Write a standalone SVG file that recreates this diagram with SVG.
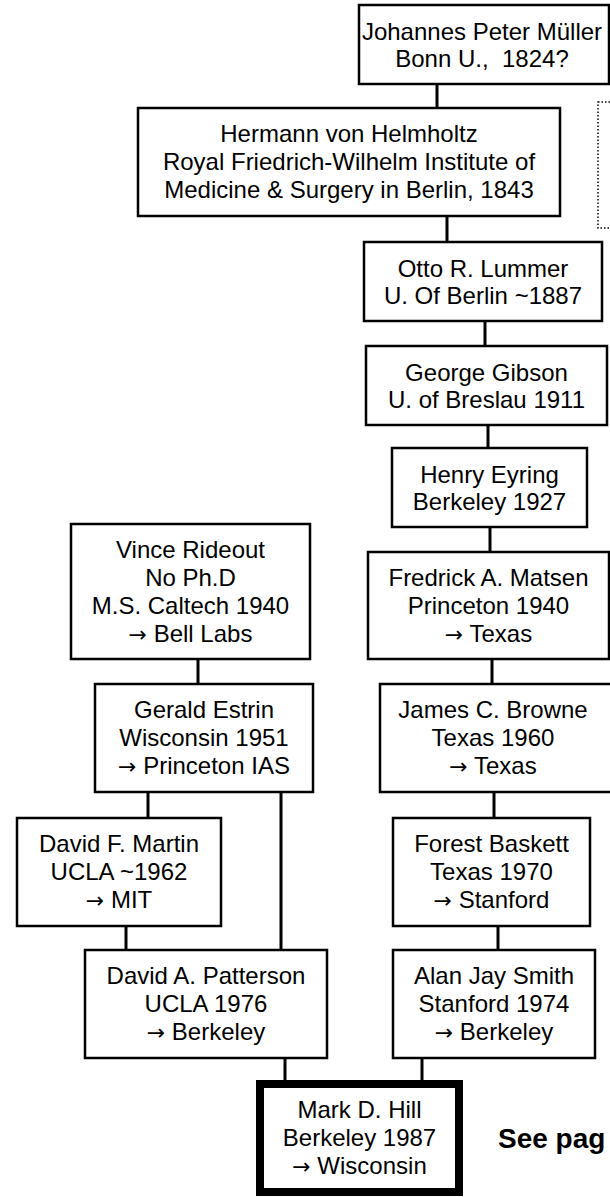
<svg xmlns="http://www.w3.org/2000/svg" width="610" height="1197" viewBox="0 0 610 1197">
<style>
.box{fill:#fff;stroke:#000;stroke-width:2.5}
.me{fill:#fff;stroke:#000;stroke-width:8}
.dot{fill:none;stroke:#000;stroke-width:1.5;stroke-dasharray:1.5 2}
.c{stroke:#000;stroke-width:3;fill:none}
text{font-family:"Liberation Sans",Arial,sans-serif;font-size:24px;fill:#000;text-anchor:middle;white-space:pre}
.a{font-family:"DejaVu Sans",sans-serif;font-size:22px}
.see{font-weight:bold;font-size:28px;text-anchor:start}
</style>
<rect width="610" height="1197" fill="#fff"/>
<g id="connectors">
<line class="c" x1="437" y1="84" x2="437" y2="108"/>
<line class="c" x1="447" y1="216" x2="447" y2="242"/>
<line class="c" x1="485" y1="321" x2="485" y2="346"/>
<line class="c" x1="488" y1="425" x2="488" y2="448"/>
<line class="c" x1="490" y1="527" x2="490" y2="552"/>
<line class="c" x1="198" y1="659" x2="198" y2="684"/>
<line class="c" x1="492" y1="659" x2="492" y2="684"/>
<line class="c" x1="148" y1="792" x2="148" y2="818"/>
<line class="c" x1="281" y1="792" x2="281" y2="950"/>
<line class="c" x1="494" y1="792" x2="494" y2="818"/>
<line class="c" x1="126" y1="926" x2="126" y2="950"/>
<line class="c" x1="498" y1="926" x2="498" y2="950"/>
<line class="c" x1="285" y1="1058" x2="285" y2="1082"/>
<line class="c" x1="422" y1="1058" x2="422" y2="1082"/>
</g>
<g id="note">
<rect class="dot" x="598" y="102" width="30" height="126"/>
</g>
<g id="muller">
<rect class="box" x="359" y="5" width="250" height="79"/>
<text x="482" y="40">Johannes Peter Müller</text>
<text x="482" y="67">Bonn U.,  1824?</text>
</g>
<g id="helmholtz">
<rect class="box" x="138" y="108" width="422" height="108"/>
<text x="349" y="142">Hermann von Helmholtz</text>
<text x="349" y="170">Royal Friedrich-Wilhelm Institute of</text>
<text x="349" y="198">Medicine &amp; Surgery in Berlin, 1843</text>
</g>
<g id="lummer">
<rect class="box" x="364" y="242" width="238" height="79"/>
<text x="483" y="277">Otto R. Lummer</text>
<text x="483" y="304">U. Of Berlin ~1887</text>
</g>
<g id="gibson">
<rect class="box" x="366" y="346" width="241" height="79"/>
<text x="486.5" y="381">George Gibson</text>
<text x="486.5" y="408">U. of Breslau 1911</text>
</g>
<g id="eyring">
<rect class="box" x="392" y="448" width="195" height="79"/>
<text x="489.5" y="483">Henry Eyring</text>
<text x="489.5" y="510">Berkeley 1927</text>
</g>
<g id="rideout">
<rect class="box" x="71" y="524" width="239" height="135"/>
<text x="190.5" y="558">Vince Rideout</text>
<text x="190.5" y="586">No Ph.D</text>
<text x="190.5" y="614">M.S. Caltech 1940</text>
<text x="190.5" y="642"><tspan class="a">→</tspan> Bell Labs</text>
</g>
<g id="matsen">
<rect class="box" x="368" y="552" width="241" height="107"/>
<text x="488.5" y="586">Fredrick A. Matsen</text>
<text x="488.5" y="614">Princeton 1940</text>
<text x="488.5" y="642"><tspan class="a">→</tspan> Texas</text>
</g>
<g id="estrin">
<rect class="box" x="95" y="684" width="218" height="108"/>
<text x="204" y="718">Gerald Estrin</text>
<text x="204" y="746">Wisconsin 1951</text>
<text x="204" y="774"><tspan class="a">→</tspan> Princeton IAS</text>
</g>
<g id="browne">
<rect class="box" x="380" y="684" width="234" height="108"/>
<text x="493" y="718">James C. Browne</text>
<text x="493" y="746">Texas 1960</text>
<text x="493" y="774"><tspan class="a">→</tspan> Texas</text>
</g>
<g id="martin">
<rect class="box" x="17" y="818" width="204" height="108"/>
<text x="119" y="852">David F. Martin</text>
<text x="119" y="880">UCLA ~1962</text>
<text x="119" y="908"><tspan class="a">→</tspan> MIT</text>
</g>
<g id="baskett">
<rect class="box" x="393" y="818" width="197" height="108"/>
<text x="491.5" y="852">Forest Baskett</text>
<text x="491.5" y="880">Texas 1970</text>
<text x="491.5" y="908"><tspan class="a">→</tspan> Stanford</text>
</g>
<g id="patterson">
<rect class="box" x="85" y="950" width="242" height="108"/>
<text x="206" y="984">David A. Patterson</text>
<text x="206" y="1012">UCLA 1976</text>
<text x="206" y="1040"><tspan class="a">→</tspan> Berkeley</text>
</g>
<g id="smith">
<rect class="box" x="393" y="950" width="202" height="108"/>
<text x="494" y="984">Alan Jay Smith</text>
<text x="494" y="1012">Stanford 1974</text>
<text x="494" y="1040"><tspan class="a">→</tspan> Berkeley</text>
</g>
<g id="hill">
<rect class="me" x="260" y="1084" width="199" height="108"/>
<text x="359.5" y="1118">Mark D. Hill</text>
<text x="359.5" y="1146">Berkeley 1987</text>
<text x="359.5" y="1174"><tspan class="a">→</tspan> Wisconsin</text>
</g>
<text class="see" x="498" y="1148">See pag</text>
</svg>
